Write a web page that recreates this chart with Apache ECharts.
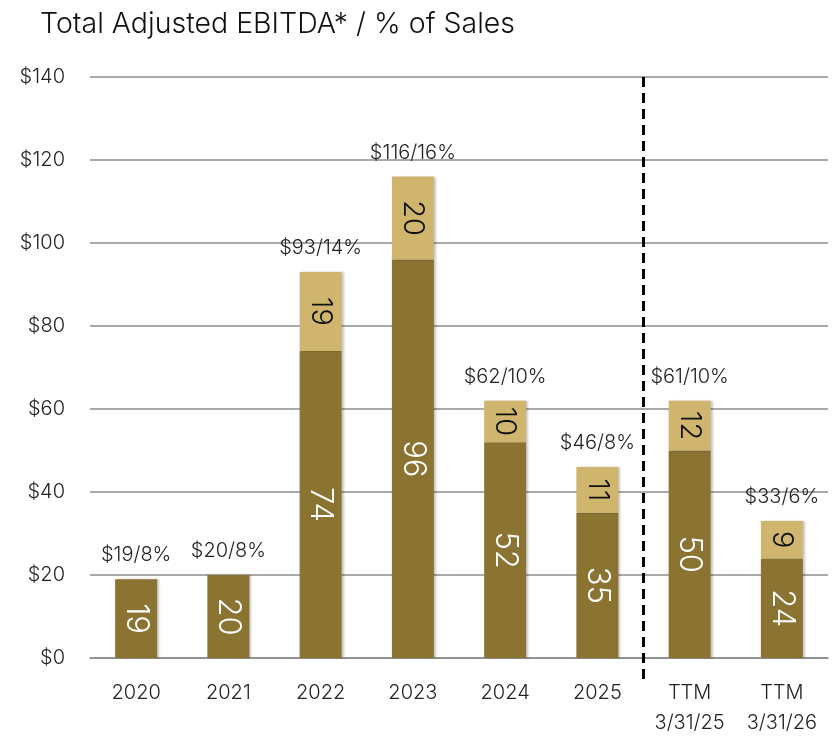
<!DOCTYPE html>
<html>
<head>
<meta charset="utf-8">
<script src="https://cdn.jsdelivr.net/npm/echarts@6/dist/echarts.min.js"></script>
<style>
  html, body { margin: 0; padding: 0; background: #fff; }
  #main { width: 835px; height: 741px; }
</style>
</head>
<body>
<div id="main"></div>
<script>
// categories and values (USD millions)
var categories = ['2020', '2021', '2022', '2023', '2024', '2025', 'TTM\n3/31/25', 'TTM\n3/31/26'];
var baseValues = [19, 20, 74, 96, 52, 35, 50, 24];
var addValues = [0, 0, 19, 20, 10, 11, 12, 9];
var totalLabels = ['$19/8%', '$20/8%', '$93/14%', '$116/16%', '$62/10%', '$46/8%', '$61/10%', '$33/6%'];
var yTicks = [0, 20, 40, 60, 80, 100, 120, 140];
var dividerAt = 6; // dashed line sits before the TTM columns

var FONT = 'Inter';
var myChart = echarts.init(document.getElementById('main'));

var barShadow = {
  shadowBlur: 2,
  shadowColor: 'rgba(0,0,0,0.22)',
  shadowOffsetX: 2,
  shadowOffsetY: 0
};

var option = {
  animation: false,
  backgroundColor: '#fff',
  textStyle: { fontFamily: FONT },
  title: {
    text: 'Total Adjusted EBITDA* / % of Sales',
    left: 35,
    top: 5,
    textStyle: { fontFamily: FONT, fontSize: 28.5, fontWeight: 300, color: '#111' }
  },
  grid: { left: 90, right: 7, top: 77, bottom: 83 },
  xAxis: [{
    type: 'category',
    data: categories,
    axisLine: { lineStyle: { color: '#8c8c8c', width: 1.5 } },
    axisTick: { length: 8, lineStyle: { color: '#8c8c8c', width: 1.5 } },
    axisLabel: {
      color: '#222', fontSize: 20, fontFamily: FONT, fontWeight: 300,
      margin: 20, lineHeight: 30
    }
  }, {
    // helper axis for the divider line
    type: 'value', min: 0, max: categories.length, show: false
  }],
  yAxis: {
    type: 'value',
    min: yTicks[0],
    max: yTicks[yTicks.length - 1],
    interval: 20,
    axisLine: { show: false },
    axisTick: { show: false },
    splitLine: { lineStyle: { color: '#8c8c8c', width: 1.5 } },
    axisLabel: {
      color: '#222', fontSize: 20, fontFamily: FONT, fontWeight: 300, margin: 25,
      formatter: function (v) { return '$' + v; }
    }
  },
  series: [{
    name: 'base',
    type: 'bar',
    stack: 'ebitda',
    barWidth: 42,
    data: baseValues,
    itemStyle: Object.assign({ color: '#8b7332' }, barShadow),
    label: {
      show: true, position: 'inside', rotate: -90,
      color: '#fff', fontSize: 31, fontWeight: 300, fontFamily: FONT
    }
  }, {
    name: 'add',
    type: 'bar',
    stack: 'ebitda',
    barWidth: 42,
    data: addValues,
    itemStyle: Object.assign({ color: '#cfb56e' }, barShadow),
    label: {
      show: true, position: 'inside', rotate: -90,
      color: '#111', fontSize: 29, fontWeight: 300, fontFamily: FONT,
      formatter: function (p) { return p.value ? String(p.value) : ''; }
    }
  }, {
    name: 'total',
    type: 'bar',
    stack: 'ebitda',
    barWidth: 42,
    data: categories.map(function () { return 0; }),
    label: {
      show: true, position: 'top', distance: 14,
      color: '#222', fontSize: 20, fontWeight: 300, fontFamily: FONT,
      formatter: function (p) { return totalLabels[p.dataIndex]; }
    }
  }]
};

myChart.setOption(option);

// dashed divider between the annual and TTM columns, placed through the axes
var dx = myChart.convertToPixel({ xAxisIndex: 1 }, dividerAt);
var dTop = myChart.convertToPixel({ yAxisIndex: 0 }, yTicks[yTicks.length - 1]);
var dBottom = myChart.convertToPixel({ yAxisIndex: 0 }, yTicks[0]) + 23;
myChart.setOption({
  graphic: [{
    type: 'line',
    silent: true,
    z: 10,
    shape: { x1: dx, y1: dTop, x2: dx, y2: dBottom },
    style: { stroke: '#000', lineWidth: 3, lineDash: [10, 6] }
  }]
});
</script>
</body>
</html>
